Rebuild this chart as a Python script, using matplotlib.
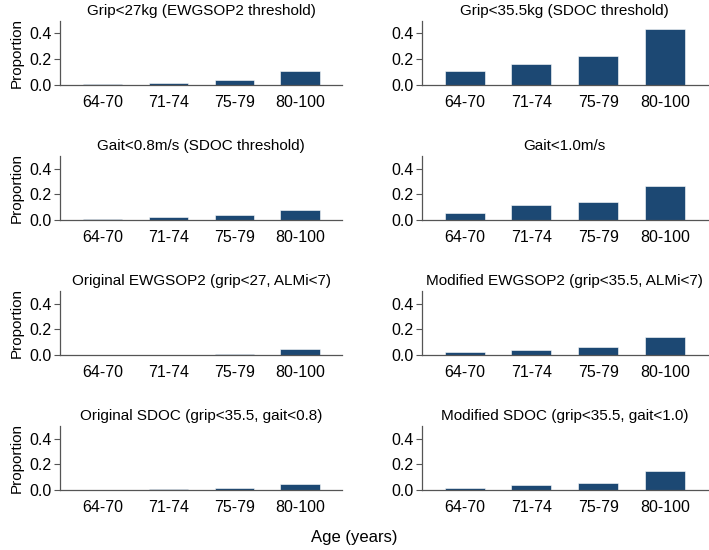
import numpy as np
import matplotlib.pyplot as plt

# ---------------------------------------------------------------
# Data: proportion by age group for each definition ...
# ---------------------------------------------------------------

age_groups = ["64-70", "71-74", "75-79", "80-100"]

titles = [
    "Grip<27kg (EWGSOP2 threshold)",
    "Grip<35.5kg (SDOC threshold)",
    "Gait<0.8m/s (SDOC threshold)",
    "Gait<1.0m/s",
    "Original EWGSOP2 (grip<27, ALMi<7)",
    "Modified EWGSOP2 (grip<35.5, ALMi<7)",
    "Original SDOC (grip<35.5, gait<0.8)",
    "Modified SDOC (grip<35.5, gait<1.0)",
]

grip27        = [0.010, 0.016, 0.035, 0.105]
grip355       = [0.107, 0.160, 0.226, 0.435]
gait08        = [0.010, 0.026, 0.036, 0.075]
gait10        = [0.055, 0.115, 0.143, 0.265]
orig_ewgsop2  = [0.002, 0.004, 0.010, 0.047]
mod_ewgsop2   = [0.022, 0.040, 0.059, 0.142]
orig_sdoc     = [0.000, 0.010, 0.016, 0.048]
mod_sdoc      = [0.016, 0.037, 0.057, 0.148]

series = [grip27, grip355, gait08, gait10,
          orig_ewgsop2, mod_ewgsop2, orig_sdoc, mod_sdoc]

# ---------------------------------------------------------------
# Figure ...
# ---------------------------------------------------------------

plt.rcParams['font.family'] = ['Liberation Sans', 'DejaVu Sans']

fig = plt.figure(figsize=(7.09, 5.5), dpi=100)

bar_color   = '#1c4873'
spine_color = '#555555'

lefts   = [0.085, 0.595]
widths  = [0.398, 0.403]
bottoms = [0.8455, 0.600, 0.3545, 0.109]
height  = 0.117

x = np.arange(len(age_groups))

for k, (title, vals) in enumerate(zip(titles, series)):
    row, col = divmod(k, 2)
    ax = fig.add_axes([lefts[col], bottoms[row], widths[col], height])
    ax.bar(x, vals, width=0.6, color=bar_color, edgecolor='white', linewidth=0.4)
    ax.set_xlim(-0.64, 3.64)
    ax.set_ylim(0, 0.5)
    ax.set_yticks([0.0, 0.2, 0.4])
    ax.set_yticklabels(["0.0", "0.2", "0.4"])
    ax.set_xticks(x)
    ax.set_xticklabels(age_groups)
    ax.set_title(title, fontsize=11, pad=4)
    for s in ['top', 'right']:
        ax.spines[s].set_visible(False)
    for s in ['left', 'bottom']:
        ax.spines[s].set_color(spine_color)
        ax.spines[s].set_linewidth(0.9)
    ax.tick_params(axis='x', length=0, labelsize=11.5, pad=7)
    ax.tick_params(axis='y', length=4, color=spine_color, labelsize=11.5, pad=2)
    if col == 0:
        ax.set_ylabel("Proportion", fontsize=11, labelpad=4)

fig.text(0.5, 0.022, "Age (years)", ha='center', va='center', fontsize=12)

fig.savefig("out.png", dpi=100)
